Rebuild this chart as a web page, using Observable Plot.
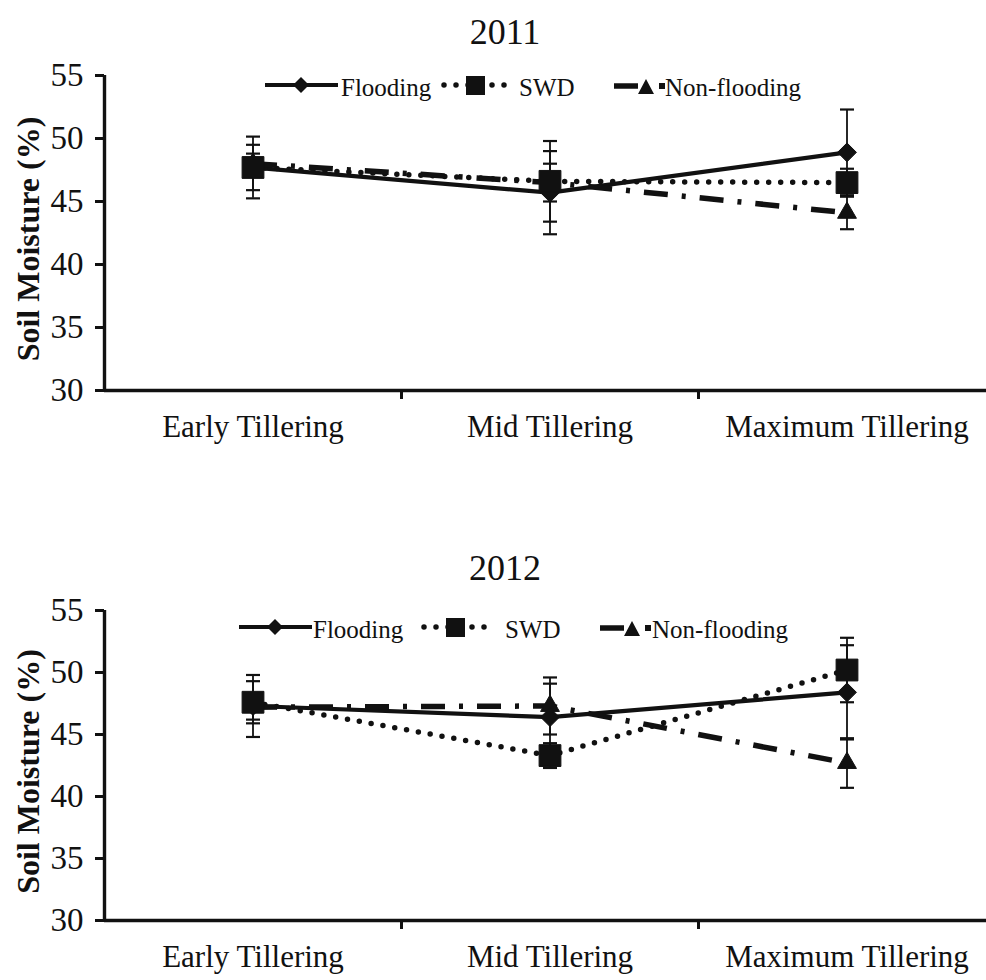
<!DOCTYPE html>
<html><head><meta charset="utf-8">
<script src="https://cdn.jsdelivr.net/npm/d3@7"></script>
<script src="https://cdn.jsdelivr.net/npm/@observablehq/plot@0.6"></script>
<style>
body{margin:0;background:#fff;width:986px;height:980px;overflow:hidden;font-family:"Liberation Serif","Times New Roman",serif;color:#111}
.panel{position:relative;width:986px}
.title{font-size:36px;line-height:40px;text-align:center;padding-left:24px;box-sizing:border-box;width:986px}
.legend{position:absolute;left:0;width:986px;height:30px;font-size:25px;line-height:30px}
.legend > *{position:absolute;top:0}
.legend svg{top:3px}
svg{display:block}
svg text{font-family:"Liberation Serif","Times New Roman",serif !important}
</style></head><body>
<div id="p1" class="panel"></div>
<div id="p2" class="panel"></div>
<script>
// ---- data ----
const stages = ["Early Tillering", "Mid Tillering", "Maximum Tillering"];
const seriesNames = ["Flooding", "SWD", "Non-flooding"];
const yTicks = [30, 35, 40, 45, 50, 55];
const yDomain = [30, 55];
const yLabel = "Soil Moisture (%)";

const flooding2011 = [47.7, 45.7, 48.9];
const floodingErr2011 = [2.45, 3.3, 3.4];
const swd2011 = [47.7, 46.6, 46.5];
const swdErr2011 = [1.8, 3.2, 1.1];
const nonFlooding2011 = [48.0, 46.5, 44.1];
const nonFloodingErr2011 = [0.8, 1.5, 1.3];

const flooding2012 = [47.3, 46.4, 48.4];
const floodingErr2012 = [2.5, 2.7, 3.8];
const swd2012 = [47.6, 43.3, 50.2];
const swdErr2012 = [1.7, 1.0, 2.6];
const nonFlooding2012 = [47.2, 47.3, 42.7];
const nonFloodingErr2012 = [1.0, 2.3, 2.0];

const panels = [
  {year: "2011", values: [flooding2011, swd2011, nonFlooding2011], errs: [floodingErr2011, swdErr2011, nonFloodingErr2011]},
  {year: "2012", values: [flooding2012, swd2012, nonFlooding2012], errs: [floodingErr2012, swdErr2012, nonFloodingErr2012]}
];

// ---- styles ----
const ink = "#111";
const font = '"Liberation Serif","Times New Roman",serif';
const lineStyle = {
  "Flooding": {strokeWidth: 4.2, strokeDasharray: null, strokeLinecap: "butt"},
  "SWD": {strokeWidth: 5.5, strokeDasharray: "0 12", strokeLinecap: "round"},
  "Non-flooding": {strokeWidth: 5.5, strokeDasharray: "24 14 4 14", strokeLinecap: "butt"}
};
const capSymbol = {draw(ctx) { ctx.moveTo(-7, 0); ctx.lineTo(7, 0); }};

const layout = [
  {titleH: 55, titlePad: 12, svgH: 400, mTop: 20, mBottom: 65, legendTop: 73,
   swatchLeft: [265, 438, 606], textLeft: [341, 519, 665]},
  {titleH: 135, titlePad: 93, svgH: 390, mTop: 20, mBottom: 60, legendTop: 160,
   swatchLeft: [239, 418, 592], textLeft: [313, 505, 652]}
];

function swatch(name) {
  if (name === "Flooding")
    return `<svg width="73" height="24"><line x1="0" x2="73" y1="12" y2="12" stroke="${ink}" stroke-width="4.2"/><path d="M36,4 L44,12 L36,20 L28,12Z" fill="${ink}"/></svg>`;
  if (name === "SWD")
    return `<svg width="76" height="24"><line x1="6" x2="72" y1="12" y2="12" stroke="${ink}" stroke-width="5.5" stroke-dasharray="0 12" stroke-linecap="round"/><rect x="28" y="3" width="19" height="19" fill="${ink}"/></svg>`;
  return `<svg width="60" height="24"><line x1="8" x2="32" y1="13" y2="13" stroke="${ink}" stroke-width="5.5"/><path d="M32,21 L40,6 L48,21Z" fill="${ink}"/><rect x="53" y="10" width="6" height="6" fill="${ink}"/></svg>`;
}

panels.forEach((p, pi) => {
  const L = layout[pi];
  const host = document.getElementById("p" + (pi + 1));
  const title = document.createElement("div");
  title.className = "title";
  title.style.height = L.titleH + "px";
  title.style.paddingTop = L.titlePad + "px";
  title.textContent = p.year;
  host.appendChild(title);

  const rows = [];
  seriesNames.forEach((s, si) => stages.forEach((st, i) => {
    const v = p.values[si][i], e = p.errs[si][i];
    rows.push({series: s, stage: st, x: i + 0.5, y: v, lo: v - e, hi: v + e});
  }));
  const of = (s) => rows.filter(d => d.series === s);

  const marks = [];
  marks.push(Plot.ruleY([yDomain[0]], {stroke: ink, strokeWidth: 3.4}));
  marks.push(Plot.ruleX([0], {stroke: ink, strokeWidth: 3.4}));
  marks.push(Plot.axisY(yTicks, {tickSize: 9, tickPadding: 12, fontSize: 33, fontFamily: font, strokeWidth: 3, color: ink, label: null}));
  marks.push(Plot.axisX(stages.map((s, i) => i + 0.5), {tickSize: 0, tickPadding: 24, fontSize: 31, fontFamily: font, color: ink, label: null,
    tickFormat: d => stages[Math.floor(d)]}));
  marks.push(Plot.axisX(d3.range(1, stages.length), {tickSize: 9, strokeWidth: 3, color: ink, tickFormat: () => "", label: null}));
  marks.push(Plot.text([yLabel], {text: d => d, frameAnchor: "left", textAnchor: "middle", rotate: -90, dx: -76, dy: 6,
    fontSize: 32, fontWeight: "bold", fontFamily: font, fill: ink}));
  // error bars
  marks.push(Plot.ruleX(rows, {x: "x", y1: "lo", y2: "hi", stroke: ink, strokeWidth: 1.8}));
  marks.push(Plot.dot(rows, {x: "x", y: "lo", symbol: capSymbol, r: 5, fill: "none", stroke: ink, strokeWidth: 2.2}));
  marks.push(Plot.dot(rows, {x: "x", y: "hi", symbol: capSymbol, r: 5, fill: "none", stroke: ink, strokeWidth: 2.2}));
  // lines
  seriesNames.forEach(s => marks.push(Plot.line(of(s), {x: "x", y: "y", stroke: ink, ...lineStyle[s]})));
  // markers
  marks.push(Plot.dot(of("Non-flooding"), {x: "x", y: "y", symbol: "triangle", r: 7, fill: ink, stroke: ink, strokeWidth: 1}));
  marks.push(Plot.dot(of("Flooding"), {x: "x", y: "y", symbol: "diamond2", r: 8.5, fill: ink, stroke: ink, strokeWidth: 1}));
  marks.push(Plot.dot(of("SWD"), {x: "x", y: "y", symbol: "square", r: 12.3, fill: ink, stroke: ink, strokeWidth: 1}));

  const chart = Plot.plot({
    width: 986,
    height: L.svgH,
    marginTop: L.mTop,
    marginBottom: L.mBottom,
    marginLeft: 104,
    marginRight: 0,
    x: {type: "linear", domain: [0, stages.length], range: [104, 995]},
    y: {domain: yDomain},
    style: {fontFamily: font, color: ink, background: "white", overflow: "visible"},
    marks
  });
  host.appendChild(chart);

  const lg = document.createElement("div");
  lg.className = "legend";
  lg.style.top = L.legendTop + "px";
  seriesNames.forEach((s, si) => {
    const sw = document.createElement("span");
    sw.style.left = L.swatchLeft[si] + "px";
    sw.innerHTML = swatch(s);
    lg.appendChild(sw);
    const tx = document.createElement("span");
    tx.style.left = L.textLeft[si] + "px";
    tx.textContent = s;
    lg.appendChild(tx);
  });
  host.appendChild(lg);
});
</script>
</body></html>
